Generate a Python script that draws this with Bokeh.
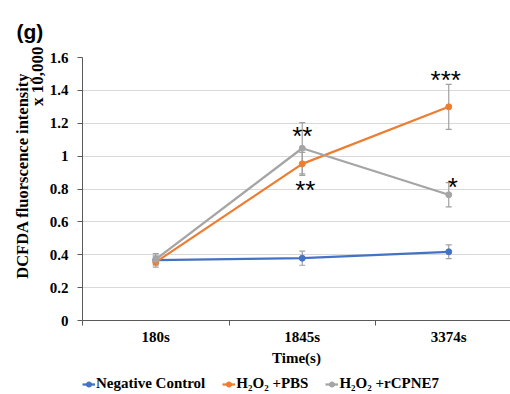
import math
from bokeh.plotting import figure
from bokeh.layouts import column
from bokeh.models import (ColumnDataSource, Whisker, TeeHead, FixedTicker, Range1d,
                          CustomJSTickFormatter, Title, Legend)
from bokeh.core.properties import value
from bokeh.embed import file_html
from bokeh.resources import INLINE

# ---- data ----
categories = ["180s", "1845s", "3374s"]
neg_control = [0.368, 0.379, 0.418]
neg_err = [0.025, 0.043, 0.042]
h2o2_pbs = [0.355, 0.953, 1.300]
pbs_err = [0.03, 0.07, 0.137]
h2o2_rcpne7 = [0.372, 1.048, 0.765]
rcpne7_err = [0.035, 0.156, 0.074]
series_names = ["Negative Control", "H\u2082O\u2082 +PBS", "H\u2082O\u2082 +rCPNE7"]
y_ticks = [0, 0.2, 0.4, 0.6, 0.8, 1.0, 1.2, 1.4, 1.6]
# significance marks: (category index, y value, text)
stars = [(1, 1.14, "**"), (1, 0.815, "**"), (2, 1.48, "***"), (2, 0.83, "*")]
star_xoff = [0, 3, -3, 4]

colors = ["#4472C4", "#ED7D31", "#A5A5A5"]
SERIF = "Liberation Serif"

xs = [i + 0.5 for i in range(len(categories))]

p = figure(frame_width=428, frame_height=263, output_backend="svg", toolbar_location=None,
           x_range=Range1d(0, 428 / 146.5), y_range=Range1d(0, 1.6),
           min_border_left=82, min_border_right=0, min_border_top=57,
           min_border_bottom=0)
p.outline_line_color = None
p.background_fill_color = "white"
p.border_fill_color = "white"

# panel letter as a title above
p.title = Title(text="(g)", align="left", offset=-66,
                text_font="Liberation Sans", text_font_style="bold",
                text_font_size="21px", text_color="black",
                standoff=30)

# grid
p.xgrid.grid_line_color = None
p.ygrid.grid_line_color = "#D9D9D9"
p.ygrid.grid_line_width = 1
p.ygrid.ticker = FixedTicker(ticks=y_ticks)

# y axis
p.yaxis.ticker = FixedTicker(ticks=y_ticks)
p.yaxis.formatter = CustomJSTickFormatter(code="return tick.toFixed(1).replace(/\\.0$/, '');")
p.yaxis.major_label_text_font = SERIF
p.yaxis.major_label_text_font_style = "bold"
p.yaxis.major_label_text_font_size = "15px"
p.yaxis.major_label_text_color = "black"
p.yaxis.axis_line_color = "#595959"
p.yaxis.major_tick_line_color = "#595959"
p.yaxis.major_tick_out = 5
p.yaxis.major_tick_in = 0
p.yaxis.minor_tick_line_color = None
p.yaxis.major_label_standoff = 9

# y-axis titles (two lines) as side titles
p.add_layout(Title(text="x 10,000", align="right", offset=-11,
                   text_font=SERIF, text_font_style="bold",
                   text_font_size="17px", text_color="black", standoff=0), "left")
p.add_layout(Title(text="DCFDA fluorscence intensity", align="right", offset=15,
                   text_font=SERIF, text_font_style="bold",
                   text_font_size="16.5px", text_color="black", standoff=-12), "left")

# x axis
p.xaxis.ticker = FixedTicker(ticks=xs, minor_ticks=[0, 1, 2, 3])
p.xaxis.major_label_overrides = {x: c for x, c in zip(xs, categories)}
p.xaxis.major_label_text_font = SERIF
p.xaxis.major_label_text_font_style = "bold"
p.xaxis.major_label_text_font_size = "15px"
p.xaxis.major_label_text_color = "black"
p.xaxis.major_tick_line_color = None
p.xaxis.major_tick_out = 0
p.xaxis.major_tick_in = 0
p.xaxis.minor_tick_line_color = "#595959"
p.xaxis.minor_tick_out = 5
p.xaxis.minor_tick_in = 0
p.xaxis.axis_line_color = "#595959"
p.xaxis.major_label_standoff = 3
p.xaxis.axis_label = "Time(s)"
p.xaxis.axis_label_text_font = SERIF
p.xaxis.axis_label_text_font_style = "bold"
p.xaxis.axis_label_text_font_size = "15px"
p.xaxis.axis_label_text_color = "black"
p.xaxis.axis_label_standoff = 2

# series
all_vals = [neg_control, h2o2_pbs, h2o2_rcpne7]
all_errs = [neg_err, pbs_err, rcpne7_err]
for vals, errs, col, name in zip(all_vals, all_errs, colors, series_names):
    src = ColumnDataSource(dict(x=xs, y=vals,
                                lo=[v - e for v, e in zip(vals, errs)],
                                hi=[v + e for v, e in zip(vals, errs)]))
    p.line("x", "y", source=src, line_color=col, line_width=2.25)
    p.scatter("x", "y", source=src, size=6, fill_color=col, line_color=col)
    w = Whisker(source=src, base="x", upper="hi", lower="lo",
                line_color="#A0A0A0", line_width=1.2,
                upper_head=TeeHead(size=6, line_color="#A0A0A0", line_width=1.2),
                lower_head=TeeHead(size=6, line_color="#A0A0A0", line_width=1.2))
    p.add_layout(w)

# significance stars
for (ci, yv, txt), xo in zip(stars, star_xoff):
    p.text(x=[xs[ci]], y=[yv], text=[txt], text_align="center",
           text_baseline="middle", text_font=value("Liberation Sans"),
           text_font_size="26px", text_color="black", x_offset=xo, y_offset=3)

# legend strip below the chart (its frame is aligned with the chart's frame)
lg = figure(width=510, height=28, output_backend="svg", toolbar_location=None,
            x_range=Range1d(0, 1), y_range=Range1d(0, 1),
            x_axis_location=None, y_axis_location=None,
            min_border_left=0, min_border_right=0, min_border_top=0,
            min_border_bottom=0)
lg.outline_line_color = None
lg.xgrid.visible = False
lg.ygrid.visible = False
items = []
for col, name in zip(colors, series_names):
    l = lg.line([-5, -4], [-5, -5], line_color=col, line_width=2.25)
    s = lg.scatter([-5], [-5], size=6, fill_color=col, line_color=col)
    items.append((name, [l, s]))
legend = Legend(items=items, orientation="horizontal", location=(0, 4),
                label_text_font=SERIF, label_text_font_style="bold",
                label_text_font_size="15px", label_text_color="black",
                glyph_width=13, glyph_height=14, label_standoff=1, spacing=17,
                padding=0, margin=0, border_line_color=None,
                background_fill_alpha=0)
lg.add_layout(legend)

layout = column(p, lg, spacing=0)
open("out.html", "w").write(file_html(layout, INLINE))
